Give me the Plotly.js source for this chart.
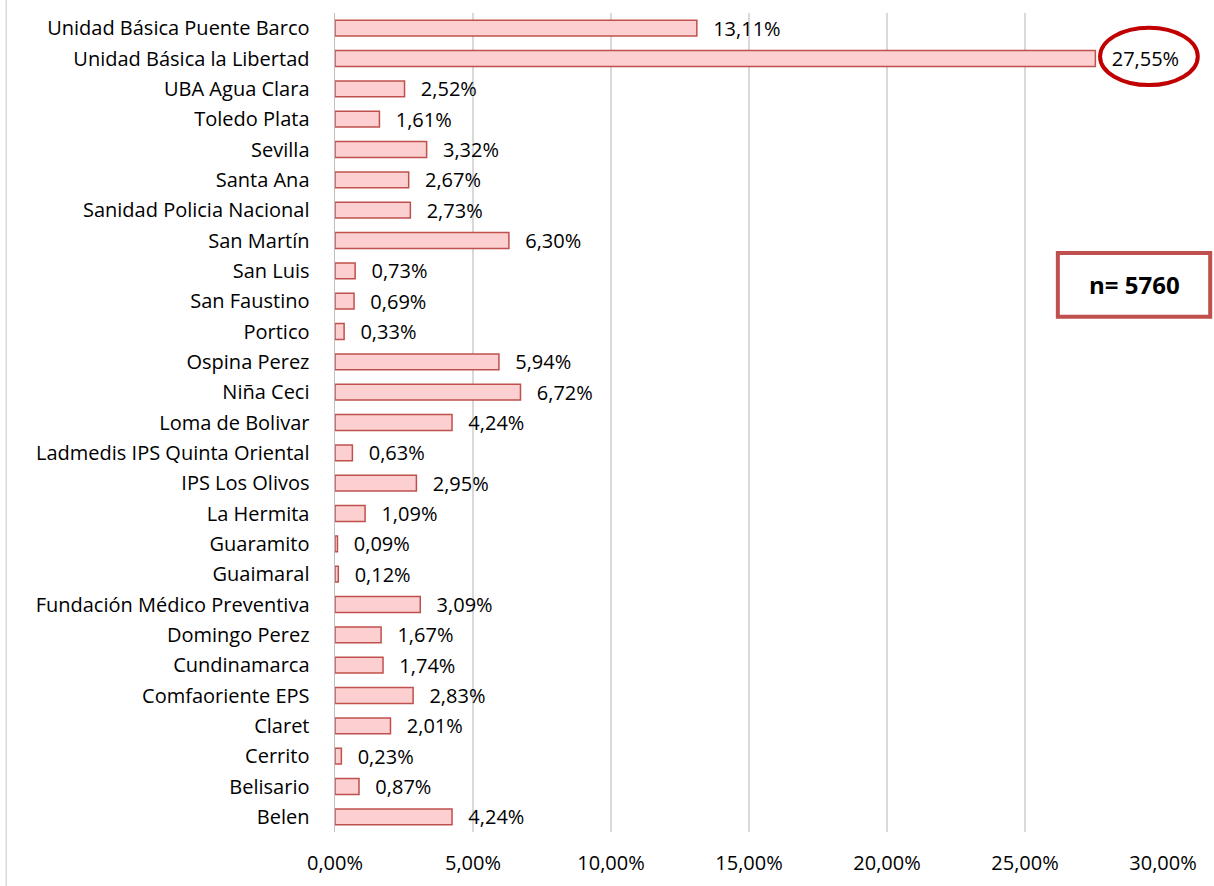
<!DOCTYPE html>
<html>
<head>
<meta charset="utf-8">
<script src="https://cdn.plot.ly/plotly-3.0.1.min.js"></script>
<style>html,body{margin:0;padding:0;background:#fff;}#chart{width:1214px;height:886px;}</style>
</head>
<body>
<div id="chart"></div>
<script>
const categories = [
  "Unidad Básica Puente Barco","Unidad Básica la Libertad","UBA Agua Clara","Toledo Plata","Sevilla",
  "Santa Ana","Sanidad Policia Nacional","San Martín","San Luis","San Faustino","Portico",
  "Ospina Perez","Niña Ceci","Loma de Bolivar","Ladmedis IPS Quinta Oriental","IPS Los Olivos",
  "La Hermita","Guaramito","Guaimaral","Fundación Médico Preventiva","Domingo Perez",
  "Cundinamarca","Comfaoriente EPS","Claret","Cerrito","Belisario","Belen"
];
const values = [
  0.1311,0.2755,0.0252,0.0161,0.0332,
  0.0267,0.0273,0.0630,0.0073,0.0069,0.0033,
  0.0594,0.0672,0.0424,0.0063,0.0295,
  0.0109,0.0009,0.0012,0.0309,0.0167,
  0.0174,0.0283,0.0201,0.0023,0.0087,0.0424
];
const tickVals = [0,0.05,0.10,0.15,0.20,0.25,0.30];
const tickText = ["0,00%","5,00%","10,00%","15,00%","20,00%","25,00%","30,00%"];
const sampleLabel = "n= 5760";

const fmt = v => (v*100).toFixed(2).replace(".", ",") + "%";
const FONT = "'Open Sans', 'Noto Sans', sans-serif";
const FS = 20;

const trace = {
  type: "bar",
  orientation: "h",
  y: categories,
  x: values,
  text: values.map(v => "\u2002\u2009" + fmt(v)),
  textposition: "outside",
  constraintext: "none",
  cliponaxis: false,
  textfont: {family: FONT, size: FS, color: "#000"},
  marker: {color: "#fcd0d0", line: {color: "#c0504d", width: 1.5}},
  hoverinfo: "skip"
};

const layout = {
  width: 1214, height: 886,
  margin: {l: 335, r: 51, t: 13, b: 54},
  paper_bgcolor: "#fff", plot_bgcolor: "#fff",
  bargap: 0.48,
  showlegend: false,
  font: {family: FONT, size: FS, color: "#000"},
  xaxis: {
    range: [0, 0.30],
    tickvals: tickVals, ticktext: tickText,
    showgrid: true, gridcolor: "#d9d9d9", gridwidth: 1.5,
    zeroline: false, showline: false,
    ticks: "outside", ticklen: 13, tickcolor: "rgba(0,0,0,0)",
    tickfont: {family: FONT, size: FS, color: "#000"},
    fixedrange: true
  },
  yaxis: {
    autorange: "reversed",
    type: "category",
    showgrid: false, zeroline: false,
    showline: true, linecolor: "#bfbfbf", linewidth: 1.5,
    ticks: "outside", ticklen: 20, tickcolor: "rgba(0,0,0,0)",
    tickfont: {family: FONT, size: FS, color: "#000"},
    fixedrange: true
  },
  shapes: [
    {type: "circle", xref: "paper", yref: "paper", x0: 0.924, x1: 1.042, y0: 0.912, y1: 0.982,
     line: {color: "#c00000", width: 4}, fillcolor: "rgba(0,0,0,0)", layer: "above"},
    {type: "rect", xref: "paper", yref: "paper", x0: 0.873, x1: 1.057, y0: 0.629, y1: 0.707,
     line: {color: "#c0504d", width: 4}, fillcolor: "#fff", layer: "above"},
    {type: "line", xref: "paper", yref: "paper", x0: -0.397, x1: -0.397, y0: -0.07, y1: 1.02,
     line: {color: "#d9d9d9", width: 1.5}}
  ],
  annotations: [
    {xref: "paper", yref: "paper", x: 0.965, y: 0.668, text: "<b>" + sampleLabel + "</b>",
     showarrow: false, font: {family: FONT, size: 24, color: "#000"}, xanchor: "center", yanchor: "middle"}
  ]
};

Plotly.newPlot("chart", [trace], layout, {displayModeBar: false, staticPlot: true});
</script>
</body>
</html>
